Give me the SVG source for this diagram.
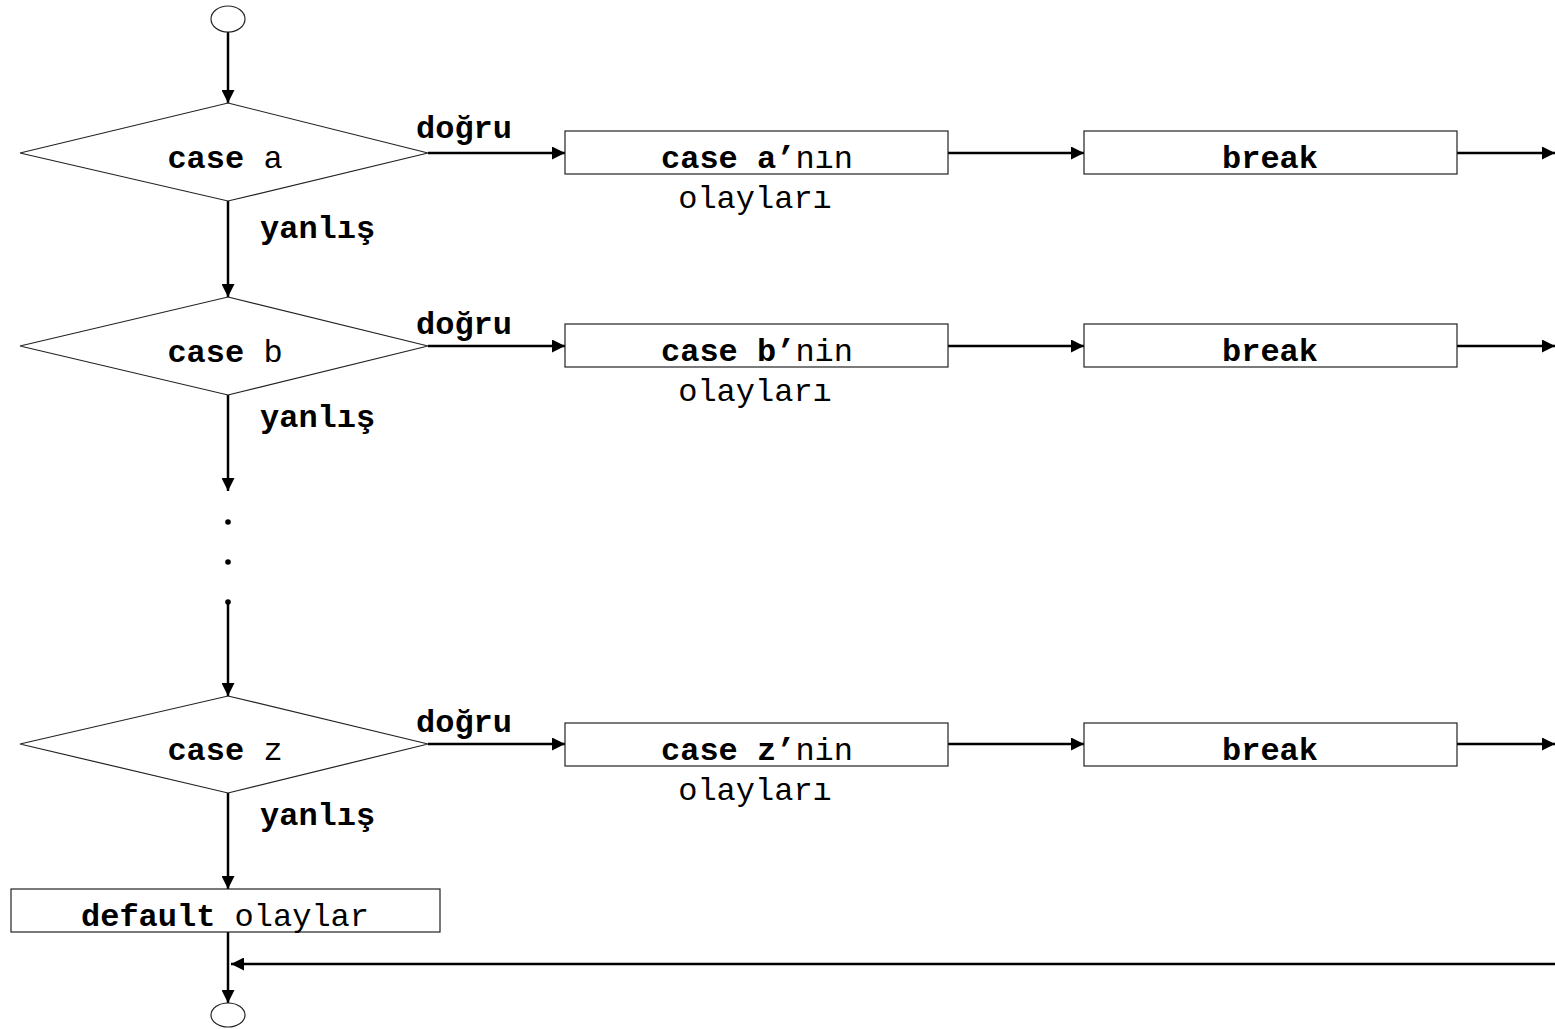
<svg xmlns="http://www.w3.org/2000/svg" width="1555" height="1029" viewBox="0 0 1555 1029">
  <style>
    text { font-family: "Liberation Mono", "Courier New", monospace; font-size: 32px; fill: #000; }
    .b { font-weight: bold; }
    .c { text-anchor: middle; }
    .shape { fill: #fff; stroke: #222; stroke-width: 1.2; }
    .term { fill: #fff; stroke: #222; stroke-width: 1.2; }
    .flow { fill: none; stroke: #000; stroke-width: 2.5; }
    .dot { fill: #000; }
  </style>
  <defs>
    <marker id="arrow" markerUnits="userSpaceOnUse" markerWidth="13" markerHeight="13" refX="13" refY="6.5" orient="auto">
      <path d="M0,0 L13,6.5 L0,13 z" fill="#000"/>
    </marker>
  </defs>

  <rect width="1555" height="1029" fill="#fff"/>

  <!-- connectors -->
  <g id="connectors">
    <path class="flow" d="M228,32 V103" marker-end="url(#arrow)"/>
    <path class="flow" d="M228,201 V297" marker-end="url(#arrow)"/>
    <path class="flow" d="M228,395 V491" marker-end="url(#arrow)"/>
    <circle class="dot" cx="228" cy="522" r="2.8"/>
    <circle class="dot" cx="228" cy="562" r="2.8"/>
    <circle class="dot" cx="228" cy="602" r="2.8"/>
    <path class="flow" d="M228,602 V696" marker-end="url(#arrow)"/>
    <path class="flow" d="M228,793 V889" marker-end="url(#arrow)"/>
    <path class="flow" d="M228,932 V1003" marker-end="url(#arrow)"/>
    <path class="flow" d="M1555,964 H231" marker-end="url(#arrow)"/>

    <path class="flow" d="M428,153 H565" marker-end="url(#arrow)"/>
    <path class="flow" d="M948,153 H1084" marker-end="url(#arrow)"/>
    <path class="flow" d="M1457,153 H1555" marker-end="url(#arrow)"/>

    <path class="flow" d="M428,346 H565" marker-end="url(#arrow)"/>
    <path class="flow" d="M948,346 H1084" marker-end="url(#arrow)"/>
    <path class="flow" d="M1457,346 H1555" marker-end="url(#arrow)"/>

    <path class="flow" d="M428,744 H565" marker-end="url(#arrow)"/>
    <path class="flow" d="M948,744 H1084" marker-end="url(#arrow)"/>
    <path class="flow" d="M1457,744 H1555" marker-end="url(#arrow)"/>

    <text class="b" x="416" y="138">doğru</text>
    <text class="b" x="416" y="334">doğru</text>
    <text class="b" x="416" y="732">doğru</text>
    <text class="b" x="260" y="238">yanlış</text>
    <text class="b" x="260" y="427">yanlış</text>
    <text class="b" x="260" y="825">yanlış</text>
  </g>

  <!-- start / end terminals -->
  <g id="start">
    <ellipse class="term" cx="228" cy="19" rx="17" ry="13"/>
  </g>
  <g id="end">
    <ellipse class="term" cx="228" cy="1015" rx="17" ry="12"/>
  </g>

  <!-- case a -->
  <g id="case-a">
    <polygon class="shape" points="228,103 428,153 228,201 20,153"/>
    <text x="225" y="168" class="c"><tspan class="b">case</tspan> a</text>
  </g>
  <g id="case-a-actions">
    <rect class="shape" x="565" y="131" width="383" height="43"/>
    <text class="c" x="757" y="168"><tspan class="b">case a’</tspan>nın</text>
    <text class="c" x="755" y="208">olayları</text>
  </g>
  <g id="break-a">
    <rect class="shape" x="1084" y="131" width="373" height="43"/>
    <text class="c b" x="1270" y="168">break</text>
  </g>

  <!-- case b -->
  <g id="case-b">
    <polygon class="shape" points="228,297 428,346 228,395 20,346"/>
    <text x="225" y="362" class="c"><tspan class="b">case</tspan> b</text>
  </g>
  <g id="case-b-actions">
    <rect class="shape" x="565" y="324" width="383" height="43"/>
    <text class="c" x="757" y="361"><tspan class="b">case b’</tspan>nin</text>
    <text class="c" x="755" y="401">olayları</text>
  </g>
  <g id="break-b">
    <rect class="shape" x="1084" y="324" width="373" height="43"/>
    <text class="c b" x="1270" y="361">break</text>
  </g>

  <!-- case z -->
  <g id="case-z">
    <polygon class="shape" points="228,696 428,744 228,793 20,744"/>
    <text x="225" y="760" class="c"><tspan class="b">case</tspan> z</text>
  </g>
  <g id="case-z-actions">
    <rect class="shape" x="565" y="723" width="383" height="43"/>
    <text class="c" x="757" y="760"><tspan class="b">case z’</tspan>nin</text>
    <text class="c" x="755" y="800">olayları</text>
  </g>
  <g id="break-z">
    <rect class="shape" x="1084" y="723" width="373" height="43"/>
    <text class="c b" x="1270" y="760">break</text>
  </g>

  <!-- default branch -->
  <g id="default">
    <rect class="shape" x="11" y="889" width="429" height="43"/>
    <text class="c" x="225" y="926"><tspan class="b">default</tspan> olaylar</text>
  </g>
</svg>
